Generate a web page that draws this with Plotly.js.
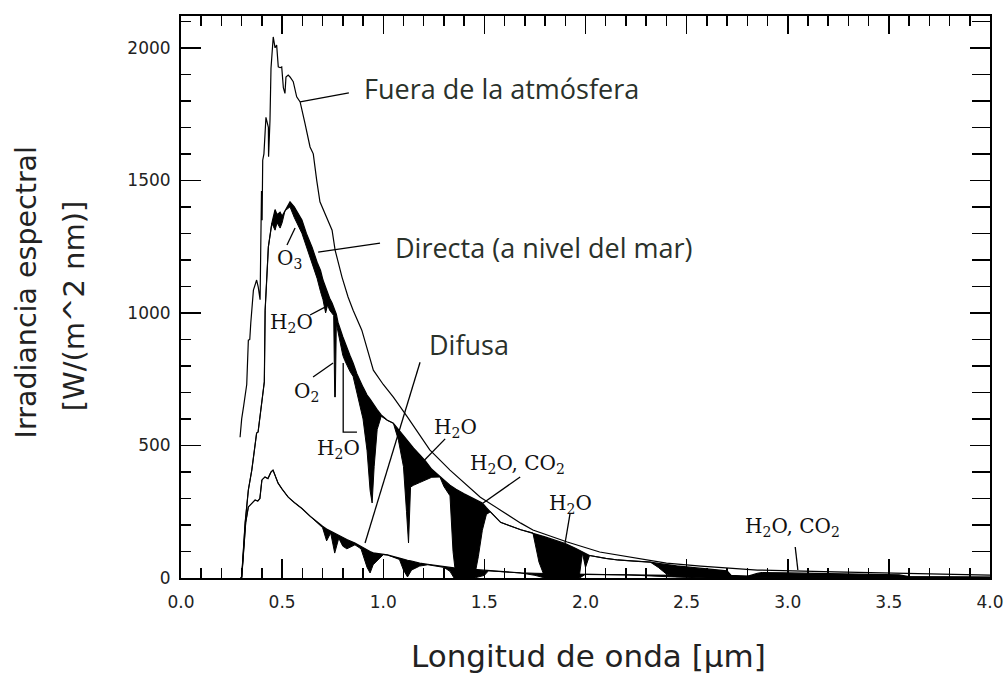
<!DOCTYPE html>
<html>
<head>
<meta charset="utf-8">
<script src="https://cdn.plot.ly/plotly-3.0.1.min.js"></script>
<style>html,body{margin:0;padding:0;background:#fff}#chart{width:1005px;height:675px}</style>
</head>
<body>
<div id="chart"></div>
<script>
// ---------- DATA ----------
// Extraterrestrial spectrum ("Fuera de la atmósfera")
const wlFuera = [0.292,0.300,0.310,0.325,0.333,0.340,0.345,0.358,0.374,0.382,0.391,0.398,0.401,0.404,0.41,0.42,0.432,0.433,0.44,0.445,0.456,0.465,0.473,0.481,0.49,0.498,0.506,0.514,0.519,0.53,0.539,0.555,0.572,0.589,0.613,0.638,0.654,0.662,0.671,0.687,0.712,0.727,0.747,0.762,0.796,0.826,0.851,0.894,0.951,1.0,1.05,1.12,1.23,1.33,1.48,1.58,1.68,1.74,1.91,2.07,2.24,2.40,2.57,2.73,2.85,3.23,3.6,3.97,4.0];
const fuera = [531,600,650,730,897,900,962,1086,1124,1097,1050,1460,1350,1576,1600,1738,1700,1589,1727,1923,2041,2000,2010,1928,1925,1928,1850,1828,1890,1897,1890,1872,1815,1796,1715,1626,1600,1540,1500,1419,1376,1350,1312,1237,1135,1060,1010,935,784,730,682,607,483,407,305,256,207,181,136,98,75,56,45,38,30,23,17,11,11];

// Direct beam at sea level: envelope (top of the black absorption bands) and actual curve
const wlDirecta = [0.295,0.300,0.317,0.333,0.350,0.366,0.374,0.381,0.405,0.412,0.416,0.432,0.449,0.465,0.475,0.49,0.50,0.514,0.539,0.56,0.598,0.62,0.648,0.673,0.69,0.702,0.715,0.725,0.735,0.747,0.755,0.760,0.763,0.768,0.776,0.79,0.80,0.81,0.821,0.835,0.851,0.87,0.90,0.92,0.935,0.945,0.955,0.97,0.99,1.02,1.05,1.075,1.10,1.115,1.125,1.135,1.15,1.18,1.21,1.24,1.28,1.30,1.33,1.345,1.36,1.40,1.45,1.47,1.49,1.51,1.53,1.58,1.68,1.74,1.77,1.80,1.85,1.90,1.95,1.97,1.985,2.0,2.02,2.1,2.16,2.24,2.32,2.36,2.40,2.45,2.55,2.66,2.70,2.72,2.80,2.85,2.87,3.0,3.2,3.4,3.55,3.6,3.8,4.0];
const directaEnvolvente = [0,5,207,332,407,495,547,550,700,740,1010,1249,1338,1390,1370,1380,1365,1385,1419,1400,1350,1300,1248,1191,1160,1124,1095,1075,1055,1037,1020,1010,1005,995,965,930,910,890,871,840,811,770,720,690,675,662,650,635,615,595,584,560,535,520,510,500,490,465,440,410,381,370,350,342,335,318,300,292,283,265,250,210,182,170,162,155,142,130,112,105,98,92,85,74,68,64,60,55,50,46,38,30,27,10,6,18,20,19,17,15,12,5,4,3];
const directa = [0,5,207,332,407,495,547,550,700,740,1010,1249,1338,1312,1340,1320,1340,1385,1400,1360,1300,1250,1190,1130,1080,1050,1000,1030,1010,1000,990,683,683,960,930,880,840,820,800,780,760,700,600,480,330,283,420,560,610,595,584,520,420,250,132,343,350,360,370,380,381,345,310,100,0,0,0,80,180,240,250,210,182,170,60,0,0,0,0,10,94,40,85,74,68,64,60,40,15,5,3,3,3,3,3,3,3,3,3,3,3,3,3,2];

// Diffuse radiation: envelope and actual curve
const wlDifusa = [0.300,0.31,0.32,0.333,0.35,0.366,0.38,0.39,0.40,0.415,0.43,0.445,0.455,0.48,0.50,0.53,0.56,0.598,0.64,0.677,0.70,0.72,0.74,0.76,0.78,0.80,0.82,0.86,0.89,0.92,0.935,0.95,1.0,1.02,1.08,1.10,1.12,1.14,1.18,1.22,1.30,1.33,1.35,1.40,1.45,1.50,1.52,1.68,1.75,1.8,1.9,1.97,2.0,2.2,2.4,2.6,2.8,3.0,3.5,4.0];
const difusaEnvolvente = [0,120,210,268,280,294,290,300,370,381,375,400,407,358,335,305,285,262,232,207,195,185,177,170,160,152,145,132,118,105,100,95,90,87,75,70,67,64,56,52,42,40,38,35,32,28,27,19,18,17,16,15,14,12,10,8,6,5,3,2];
const difusa = [0,120,210,268,280,294,290,300,370,381,375,400,407,358,335,305,285,262,232,207,190,140,170,94,150,120,110,125,110,40,19,50,88,87,70,30,4,30,45,50,40,25,0,0,0,10,27,19,10,0,0,0,14,12,5,0,0,2,3,2];

// Labels: [text, x, y]  and leader lines [x0, y0, x1, y1]
const seriesLabels = [["Fuera de la atmósfera",0.895,1847],["Directa (a nivel del mar)",1.048,1248],["Difusa",1.217,882]];
const gasLabels = [["O<sub>3</sub>",0.465,1205],["H<sub>2</sub>O",0.43,962],["O<sub>2</sub>",0.549,702],["H<sub>2</sub>O",0.663,487],["H<sub>2</sub>O",1.241,566],["H<sub>2</sub>O,&nbsp;CO<sub>2</sub>",1.419,430],["H<sub>2</sub>O",1.81,280],["H<sub>2</sub>O,&nbsp;CO<sub>2</sub>",2.78,193]];
const leaderLines = [[0.589,1796,0.83,1830],[0.678,1229,0.984,1263],[1.182,814,0.91,132],[0.524,1256,0.564,1320],[0.638,992,0.712,1022],[0.653,758,0.752,811],[1.306,525,1.19,434],[1.677,381,1.494,283],[1.924,245,1.899,132],[3.037,117,3.05,30]];
const bracketLine = [[0.802,0.802,0.87],[811,550,550]];
const xTickVals = [0,0.5,1,1.5,2,2.5,3,3.5,4];
const xTickText = ["0.0","0.5","1.0","1.5","2.0","2.5","3.0","3.5","4.0"];
const yTickVals = [0,500,1000,1500,2000];
const xRange = [0,4];
const yRange = [0,2120];

// ---------- TRACES ----------
const lineStyle = {color:'#000', width:1.2};
const traces = [
  {x:wlDifusa, y:difusaEnvolvente, mode:'lines', line:lineStyle, hoverinfo:'skip', showlegend:false},
  {x:wlDifusa, y:difusa, mode:'lines', line:{color:'#000', width:1}, fill:'tonexty', fillcolor:'#000', hoverinfo:'skip', showlegend:false},
  {x:wlDirecta, y:directaEnvolvente, mode:'lines', line:lineStyle, hoverinfo:'skip', showlegend:false},
  {x:wlDirecta, y:directa, mode:'lines', line:{color:'#000', width:1}, fill:'tonexty', fillcolor:'#000', hoverinfo:'skip', showlegend:false},
  {x:wlFuera, y:fuera, mode:'lines', line:lineStyle, hoverinfo:'skip', showlegend:false},
  {x:bracketLine[0], y:bracketLine[1], mode:'lines', line:{color:'#000', width:1.3}, hoverinfo:'skip', showlegend:false},
  // empty traces that only make the top and right tick axes exist
  {x:[], y:[], xaxis:'x2', yaxis:'y', mode:'lines', hoverinfo:'skip', showlegend:false},
  {x:[], y:[], xaxis:'x', yaxis:'y2', mode:'lines', hoverinfo:'skip', showlegend:false}
];

const annotations = [];
seriesLabels.forEach(l => annotations.push({text:l[0], x:l[1], y:l[2], xref:'x', yref:'y', xanchor:'left', yanchor:'middle', showarrow:false,
  font:{family:'Open Sans', size:27, color:'#2a312a'}}));
gasLabels.forEach(l => annotations.push({text:l[0], x:l[1], y:l[2], xref:'x', yref:'y', xanchor:'left', yanchor:'middle', showarrow:false,
  font:{family:'DejaVu Serif', size:20, color:'#111'}}));
// axis titles
annotations.push({text:'Irradiancia espectral', textangle:-90, xref:'paper', yref:'paper', x:-0.191, y:0.509, xanchor:'center', yanchor:'middle', showarrow:false, font:{family:'DejaVu Sans', size:28.5, color:'#222'}});
annotations.push({text:'[W/(m^2 nm)]', textangle:-90, xref:'paper', yref:'paper', x:-0.132, y:0.484, xanchor:'center', yanchor:'middle', showarrow:false, font:{family:'DejaVu Sans', size:29, color:'#222'}});
annotations.push({text:'Longitud de onda [μm]', xref:'paper', yref:'paper', x:0.504, y:-0.139, xanchor:'center', yanchor:'middle', showarrow:false, font:{family:'DejaVu Sans', size:31, color:'#222'}});

const shapes = leaderLines.map(s => ({type:'line', xref:'x', yref:'y', x0:s[0], y0:s[1], x1:s[2], y1:s[3], line:{color:'#000', width:1.3}}));

const axisCommon = {showgrid:false, zeroline:false, showline:true, linecolor:'#000', linewidth:2, mirror:true,
  ticks:'inside', tickcolor:'#000', tickwidth:1.5, tickfont:{family:'DejaVu Sans', size:17, color:'#222'}};
const mirrorAxis = {showgrid:false, zeroline:false, showline:false, ticks:'inside', tickcolor:'#000', tickwidth:1.5, showticklabels:false};

const layout = {
  width:1005, height:675,
  margin:{l:181, r:15, t:16, b:97},
  paper_bgcolor:'#fff', plot_bgcolor:'#fff',
  showlegend:false,
  xaxis:Object.assign({}, axisCommon, {range:xRange, tickmode:'array', tickvals:xTickVals, ticktext:xTickText, ticklen:19,
    minor:{dtick:0.1, tick0:0, ticks:'inside', ticklen:10, tickcolor:'#000', tickwidth:1.5}, ticklabelstandoff:8}),
  yaxis:Object.assign({}, axisCommon, {range:yRange, tickmode:'array', tickvals:yTickVals, ticklen:20,
    minor:{dtick:100, tick0:0, ticks:'inside', ticklen:10, tickcolor:'#000', tickwidth:1.5}, ticklabelstandoff:5}),
  xaxis2:Object.assign({}, mirrorAxis, {overlaying:'x', anchor:'y', side:'top', range:xRange, tickmode:'array', tickvals:xTickVals, ticklen:18,
    minor:{dtick:0.1, tick0:0, ticks:'inside', ticklen:10, tickcolor:'#000', tickwidth:1.5}}),
  yaxis2:Object.assign({}, mirrorAxis, {overlaying:'y', anchor:'x', side:'right', range:yRange, tickmode:'array', tickvals:yTickVals, ticklen:20,
    minor:{dtick:100, tick0:0, ticks:'inside', ticklen:18, tickcolor:'#000', tickwidth:1.5}}),
  annotations:annotations,
  shapes:shapes
};

Plotly.newPlot('chart', traces, layout, {displayModeBar:false, staticPlot:true});
</script>
</body>
</html>
